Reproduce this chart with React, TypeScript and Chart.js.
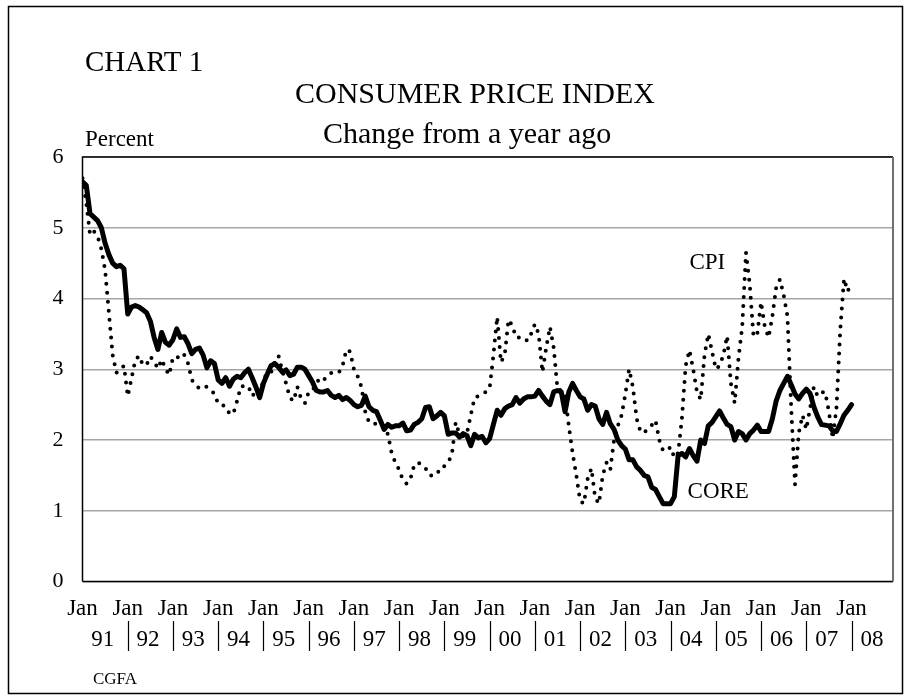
import React, { useEffect, useRef } from "react";
import { Chart, registerables } from "chart.js";

Chart.register(...registerables);

const FONT = '"Liberation Serif", "Times New Roman", serif';

// Year labels shown under the axis (one per calendar year, Jan 1991 .. 2008)
const yearLabels = ["91", "92", "93", "94", "95", "96", "97", "98", "99", "00", "01", "02", "03", "04", "05", "06", "07", "08"];
// "Jan" tick labels, at the first month of each year (month index, 0 = Jan 1991)
const janTickLabel = "Jan";
const janTicks = yearLabels.map((_, i) => i * 12);
const yTicks = [0, 1, 2, 3, 4, 5, 6];

// Monthly, year-over-year percent change, Jan 1991 .. Jan 2008
const coreValues = [
  5.65, 5.6, 5.2, 5.15, 5.1, 5.0, 4.78, 4.62, 4.5, 4.45, 4.47, 4.42,
  3.78, 3.88, 3.9, 3.88, 3.84, 3.8, 3.68, 3.45, 3.28, 3.52, 3.38, 3.34,
  3.42, 3.57, 3.45, 3.46, 3.36, 3.22, 3.28, 3.3, 3.2, 3.02, 3.12, 3.08,
  2.85, 2.8, 2.88, 2.76, 2.86, 2.9, 2.88, 2.95, 3.0, 2.88, 2.75, 2.6,
  2.8, 2.93, 3.05, 3.08, 3.03, 2.96, 2.99, 2.91, 2.93, 3.03, 3.03, 3.0,
  2.91, 2.82, 2.7, 2.68, 2.68, 2.7, 2.63, 2.6, 2.63, 2.57, 2.6, 2.56,
  2.5, 2.47, 2.49, 2.62, 2.47, 2.42, 2.4, 2.28, 2.15, 2.22, 2.18, 2.2,
  2.2, 2.24, 2.13, 2.14, 2.22, 2.25, 2.3, 2.46, 2.47, 2.3, 2.34, 2.39,
  2.34, 2.08, 2.1, 2.1, 2.04, 2.09, 2.06, 1.92, 2.08, 2.03, 2.05, 1.96,
  2.02, 2.22, 2.42, 2.35, 2.44, 2.48, 2.5, 2.6, 2.52, 2.58, 2.61, 2.61,
  2.62, 2.7, 2.62, 2.55, 2.5, 2.68, 2.7, 2.68, 2.4, 2.68, 2.8, 2.7,
  2.61, 2.58, 2.42, 2.5, 2.48, 2.3, 2.22, 2.39, 2.23, 2.15, 2.0, 1.92,
  1.87, 1.72, 1.72, 1.62, 1.57, 1.5, 1.48, 1.33, 1.3, 1.2, 1.1, 1.1,
  1.1, 1.2, 1.78, 1.81, 1.76, 1.88, 1.78, 1.7, 2.0, 1.95, 2.2, 2.25,
  2.33, 2.41, 2.31, 2.22, 2.19, 2.0, 2.12, 2.09, 2.0, 2.09, 2.14, 2.21,
  2.12, 2.12, 2.12, 2.3, 2.55, 2.7, 2.8, 2.9, 2.78, 2.65, 2.58, 2.66,
  2.72, 2.66, 2.47, 2.33, 2.22, 2.21, 2.2, 2.13, 2.12, 2.23, 2.35, 2.42,
  2.5,
];

const cpiValues = [
  5.7, 5.35, 4.9, 4.95, 4.88, 4.7, 4.4, 3.8, 3.2, 2.95, 3.0, 3.05,
  2.62, 2.87, 3.13, 3.19, 3.06, 3.06, 3.18, 3.11, 3.01, 3.14, 3.01, 2.92,
  3.17, 3.18, 3.14, 3.2, 3.08, 2.85, 2.78, 2.73, 2.76, 2.75, 2.71, 2.65,
  2.51, 2.5, 2.47, 2.37, 2.37, 2.55, 2.76, 2.76, 2.76, 2.62, 2.68, 2.65,
  2.85, 2.95, 2.95, 3.1, 3.19, 2.98, 2.8, 2.6, 2.55, 2.75, 2.58, 2.52,
  2.68, 2.7, 2.8, 2.88, 2.85, 2.9, 2.95, 2.95, 2.95, 3.05, 3.28, 3.25,
  3.0, 2.9, 2.75, 2.4, 2.25, 2.25, 2.22, 2.22, 2.2, 2.08, 1.82, 1.68,
  1.58, 1.43, 1.38, 1.45, 1.65, 1.68, 1.65, 1.6, 1.5, 1.5, 1.51, 1.62,
  1.63, 1.68, 1.8, 2.25, 2.08, 2.05, 2.1, 2.35, 2.6, 2.62, 2.64, 2.68,
  2.73, 3.2, 3.74, 3.1, 3.2, 3.7, 3.62, 3.45, 3.45, 3.45, 3.4, 3.5,
  3.64, 3.5, 2.96, 3.3, 3.6, 3.3, 2.72, 2.7, 2.65, 2.2, 1.82, 1.5,
  1.14, 1.1, 1.45, 1.6, 1.18, 1.1, 1.5, 1.68, 1.58, 2.0, 2.2, 2.35,
  2.65, 3.0, 2.75, 2.3, 2.12, 2.1, 2.17, 2.21, 2.28, 2.0, 1.85, 1.85,
  1.9, 1.75, 1.82, 2.3, 3.05, 3.27, 3.0, 2.68, 2.57, 3.2, 3.5, 3.25,
  3.0, 3.05, 3.2, 3.47, 2.8, 2.52, 3.15, 3.6, 4.65, 4.2, 3.46, 3.5,
  3.95, 3.6, 3.45, 3.75, 4.15, 4.27, 4.05, 3.75, 2.45, 1.37, 2.1, 2.35,
  2.15, 2.45, 2.75, 2.62, 2.67, 2.68, 2.4, 2.02, 2.45, 3.55, 4.28, 4.1,
  4.24,
];

// Where the series names sit, in data units (month index, percent)
const seriesNames = ["CORE", "CPI"];
const seriesNameAt = [
  [160.5, 1.18],
  [161, 4.41],
];

const decorPlugin = {
  id: "decor",
  beforeDraw(chart: any) {
    const { ctx, width, height } = chart;
    ctx.save();
    ctx.fillStyle = "#ffffff";
    ctx.fillRect(0, 0, width, height);
    ctx.restore();
  },
  beforeDatasetsDraw(chart: any) {
    const { ctx, chartArea: a } = chart;
    ctx.save();
    ctx.lineWidth = 1.5;
    ctx.strokeStyle = "#000000";
    ctx.beginPath();
    ctx.moveTo(a.left, a.bottom);
    ctx.lineTo(a.left, a.top);
    ctx.lineTo(a.right, a.top);
    ctx.moveTo(a.left, a.bottom);
    ctx.lineTo(a.right, a.bottom);
    ctx.stroke();
    ctx.strokeStyle = "#707070";
    ctx.lineWidth = 2;
    ctx.beginPath();
    ctx.moveTo(a.right, a.top);
    ctx.lineTo(a.right, a.bottom);
    ctx.stroke();
    ctx.restore();
  },
  afterDraw(chart: any) {
    const { ctx } = chart;
    const x = chart.scales.x;
    const y = chart.scales.y;
    ctx.save();
    // outer frame
    ctx.strokeStyle = "#000000";
    ctx.lineWidth = 1.5;
    ctx.strokeRect(8.5, 6.5, 894, 687);

    ctx.fillStyle = "#000000";
    ctx.textBaseline = "alphabetic";
    ctx.textAlign = "left";
    ctx.font = `29px ${FONT}`;
    ctx.fillText("CHART 1", 85, 71);
    ctx.font = `30px ${FONT}`;
    ctx.fillText("CONSUMER PRICE INDEX", 295, 103);
    ctx.fillText("Change from a year ago", 323, 143);
    ctx.font = `23px ${FONT}`;
    ctx.fillText("Percent", 85, 146);
    ctx.font = `17px ${FONT}`;
    ctx.fillText("CGFA", 93, 684);

    // series names
    ctx.font = `23px ${FONT}`;
    seriesNames.forEach((name, i) => {
      const [mx, my] = seriesNameAt[i];
      ctx.fillText(name, x.getPixelForValue(mx), y.getPixelForValue(my));
    });

    // year labels with separators
    ctx.textAlign = "center";
    ctx.font = `23px ${FONT}`;
    yearLabels.forEach((lab, i) => {
      ctx.fillText(lab, x.getPixelForValue(i * 12 + 5.4), 646);
    });
    ctx.lineWidth = 1.2;
    ctx.beginPath();
    for (let i = 1; i < yearLabels.length; i++) {
      const px = Math.round(x.getPixelForValue(i * 12)) + 0.5;
      ctx.moveTo(px, 621);
      ctx.lineTo(px, 651);
    }
    ctx.stroke();
    ctx.restore();
  },
};

export default function App() {
  const ref = useRef<HTMLCanvasElement | null>(null);

  useEffect(() => {
    if (!ref.current) return;
    const chart = new Chart(ref.current, {
      type: "line",
      data: {
        datasets: [
          {
            label: "CORE",
            data: coreValues.map((v, i) => ({ x: i, y: v })),
            borderColor: "#000000",
            borderWidth: 5,
            borderJoinStyle: "round",
            borderCapStyle: "round",
            pointRadius: 0,
            tension: 0,
            fill: false,
          },
          {
            label: "CPI",
            data: cpiValues.map((v, i) => ({ x: i, y: v })),
            borderColor: "#000000",
            borderWidth: 4,
            borderDash: [0, 9],
            borderCapStyle: "round",
            pointRadius: 0,
            tension: 0,
            fill: false,
          },
        ],
      },
      options: {
        animation: false,
        responsive: false,
        devicePixelRatio: 1,
        events: [],
        layout: { padding: { top: 157, right: 18, bottom: 0, left: 0 } },
        plugins: {
          legend: { display: false },
          tooltip: { enabled: false },
          title: { display: false },
        },
        scales: {
          x: {
            type: "linear",
            min: 0,
            max: 215,
            afterBuildTicks: (s: any) => {
              s.ticks = janTicks.map((v) => ({ value: v }));
            },
            afterFit: (s: any) => {
              s.height = 118.5;
            },
            grid: { display: false, drawTicks: false },
            border: { display: false },
            ticks: {
              autoSkip: false,
              maxRotation: 0,
              minRotation: 0,
              padding: 14,
              color: "#000000",
              font: { family: FONT, size: 23 },
              callback: () => janTickLabel,
            },
          },
          y: {
            type: "linear",
            min: 0,
            max: 6,
            afterBuildTicks: (s: any) => {
              s.ticks = yTicks.map((v) => ({ value: v }));
            },
            afterFit: (s: any) => {
              s.width = 82.5;
            },
            grid: { color: "#a6a6a6", lineWidth: 1.5, drawTicks: false },
            border: { display: false },
            ticks: {
              padding: 19,
              color: "#000000",
              font: { family: FONT, size: 22 },
              callback: (v: any) => String(v),
            },
          },
        },
      },
      plugins: [decorPlugin],
    });
    return () => chart.destroy();
  }, []);

  return (
    <div style={{ position: "absolute", left: 0, top: 0, width: 911, height: 700 }}>
      <canvas ref={ref} width={911} height={700} style={{ width: 911, height: 700, display: "block" }} />
    </div>
  );
}
